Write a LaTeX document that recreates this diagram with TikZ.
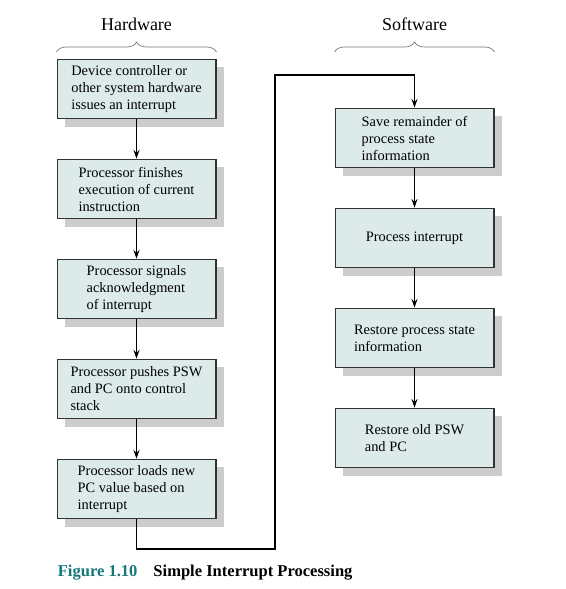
\documentclass[tikz,border=0pt]{standalone}
\usepackage{fontspec}
\setmainfont{Liberation Serif}
\usetikzlibrary{positioning,shadows,decorations.pathreplacing}
\usetikzlibrary{arrows.meta}

\definecolor{boxfill}{HTML}{DCEAEA}
\definecolor{figteal}{HTML}{17767A}

\begin{document}
\begin{tikzpicture}[x=0.75pt,y=-0.75pt,->,>={Stealth[length=6.5pt,width=4.5pt]},
                    line width=1.3pt,node distance=75pt,
                    stage/.style={draw=black!80,fill=boxfill,line width=1pt,
                                  minimum width=119pt,minimum height=44.5pt,
                                  align=left,inner sep=0pt,
                                  font=\fontsize{10.8}{12.75}\selectfont,
                                  drop shadow={opacity=1,fill=black!20,
                                               shadow xshift=6pt,shadow yshift=-6pt}},
                    heading/.style={inner sep=0pt,font=\fontsize{13.5}{16}\selectfont},
                    brace/.style={-,draw=black!55,line width=0.5pt,decorate,
                                  decoration={brace,amplitude=7.5pt}}]

  \useasboundingbox (0,0) rectangle (565,589);

  % hardware side
  \node[stage] (L1) at (136.5,89)  {Device controller or\\other system hardware\\issues an interrupt};
  \node[stage] (L2) [below of = L1] {Processor finishes\\execution of current\\instruction};
  \node[stage] (L3) [below of = L2] {Processor signals\\acknowledgment\\of interrupt};
  \node[stage] (L4) [below of = L3] {Processor pushes PSW\\and PC onto control\\stack};
  \node[stage] (L5) [below of = L4] {Processor loads new\\PC value based on\\interrupt};

  % software side
  \node[stage] (R1) at (414.5,138) {Save remainder of\\process state\\information};
  \node[stage] (R2) [below of = R1] {Process interrupt};
  \node[stage] (R3) [below of = R2] {Restore process state\\information};
  \node[stage] (R4) [below of = R3] {Restore old PSW\\and PC};

  \node[heading, above = 20.5pt of L1] (hw) {Hardware};
  \node[heading] (sw) at (R1 |- hw) {Software};

  \coordinate (hwl) at (L1.west |- 0,52);
  \coordinate (hwr) at (L1.east |- 0,52);
  \coordinate (swl) at (R1.west |- 0,52);
  \coordinate (swr) at (R1.east |- 0,52);
  \draw[brace] (hwl) -- (hwr);
  \draw[brace] (swl) -- (swr);

  \path
        (L1) edge (L2)
        (L2) edge (L3)
        (L3) edge (L4)
        (L4) edge (L5)
        (R1) edge (R2)
        (R2) edge (R3)
        (R3) edge (R4)
  ;

  \coordinate (turn) at (275,549);
  \coordinate (over) at (275,75);
  \draw (L5.south) |- (turn) -- (over) -| (R1.north);

  \node[anchor=base west,inner sep=0pt,font=\bfseries\fontsize{12.4}{15}\selectfont] (cap)
       at (57,576) {\textcolor{figteal}{Figure 1.10}\hspace{12pt}Simple Interrupt Processing};
\end{tikzpicture}
\end{document}
